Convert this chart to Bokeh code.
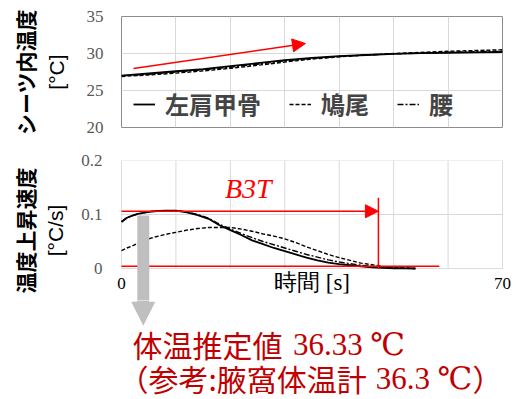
from bokeh.plotting import figure
from bokeh.models import (FixedTicker, LinearAxis, Legend, LegendItem, Arrow,
                          NormalHead, Label, Range1d, BoxAnnotation)
from bokeh.layouts import column
from bokeh.embed import file_html
from bokeh.resources import INLINE

# ---------------- data ----------------
t_top = [0, 5, 10, 15, 20, 25, 30, 35, 40, 45, 50, 55, 60, 65, 70]
temp_shoulder = [27.0, 27.3, 27.6, 27.9, 28.3, 28.7, 29.1, 29.4, 29.65, 29.8, 29.95, 30.05, 30.1, 30.15, 30.2]
temp_chest = [26.9, 27.1, 27.35, 27.65, 28.0, 28.4, 28.85, 29.25, 29.55, 29.8, 30.0, 30.15, 30.3, 30.4, 30.5]
temp_waist = [27.0, 27.2, 27.5, 27.8, 28.15, 28.55, 29.0, 29.35, 29.6, 29.8, 29.95, 30.05, 30.15, 30.25, 30.3]

t_bot = [0, 1, 2, 3, 4, 5, 6, 8, 10, 12, 14, 16, 18, 20, 22, 24, 26, 28, 30,
         32, 34, 36, 38, 40, 42, 44, 46, 48, 50, 52, 54]
rate_shoulder = [0.086, 0.094, 0.098, 0.101, 0.103, 0.105, 0.106, 0.107, 0.107, 0.104, 0.099,
                 0.092, 0.080, 0.071, 0.062, 0.052, 0.045, 0.038, 0.032, 0.026, 0.020,
                 0.015, 0.011, 0.008, 0.006, 0.004, 0.002, 0.001, 0.0005, 0.0002, 0.0]
rate_chest = [0.033, 0.038, 0.042, 0.047, 0.051, 0.055, 0.058, 0.063, 0.067, 0.071, 0.074,
              0.076, 0.076, 0.076, 0.073, 0.069, 0.064, 0.060, 0.055, 0.048, 0.040,
              0.033, 0.026, 0.020, 0.015, 0.010, 0.007, 0.004, 0.002, 0.001, 0.0]
rate_waist = [0.087, 0.094, 0.098, 0.101, 0.103, 0.105, 0.106, 0.107, 0.107, 0.105, 0.100,
              0.093, 0.082, 0.073, 0.065, 0.057, 0.050, 0.044, 0.038, 0.032, 0.026,
              0.021, 0.016, 0.012, 0.009, 0.006, 0.004, 0.002, 0.001, 0.0005, 0.0]

series_names = ["左肩甲骨", "鳩尾", "腰"]
top_yticks = [20, 25, 30, 35]
bot_yticks = [0, 0.1, 0.2]
x_grid_ticks = [10, 20, 30, 40, 50, 60]
bot_hgrid_ticks = [0.1]
x_label_ticks = [0, 70]
X_MAX = 70
BOT_Y_MAX = 0.2

trend_x = [2.2, 33.8]
trend_y = [27.97, 31.35]
peak_level = 0.106
b3t_end = 47.2
b3t_top = 0.131
base_level = 0.004
base_end = 58.4
est_x = 4.0
est_top = 0.098
est_tip = -0.106

RED = "#FF0000"
DARK_RED = "#C00000"
GRID = "#d9d9d9"
FRAME = "#8c8c8c"
TICKC = "#595959"
ARROW_GRAY = "#bfbfbf"
CJK = "Noto Sans CJK JP"
SERIF = "Liberation Serif"
SERIF_DEG = "Liberation Serif, DejaVu Serif"

# page geometry (pixels)
W = 517
TOP_H = 140
MID_H = 160           # figure with the rate chart (image y 140..300)
LOW_H = 99            # figure with the notes (image y 300..399)
BOX_L = 121           # image x of t = 0
BOX_R = 502           # image x of t = 70
MID_FRAME_L = 105     # frame left of rate chart (room for the "0" label)
MID_TOP = 20          # pixel of 0.2 inside the rate figure
MID_ZERO = 128        # pixel of 0 inside the rate figure


def style_yaxis(ax, label_standoff, tick_standoff):
    ax.axis_line_color = None
    ax.major_tick_line_color = None
    ax.minor_tick_line_color = None
    ax.major_tick_out = 0
    ax.major_tick_in = 0
    ax.minor_tick_out = 0
    ax.major_label_text_font = SERIF
    ax.major_label_text_font_size = "17px"
    ax.major_label_text_color = TICKC
    ax.major_label_standoff = tick_standoff
    ax.axis_label_text_font = "Liberation Sans"
    ax.axis_label_text_font_size = "21px"
    ax.axis_label_text_font_style = "normal"
    ax.axis_label_text_color = "black"
    ax.axis_label_standoff = label_standoff


def outer_label(p, text, standoff):
    ax = LinearAxis(axis_label=text, ticker=FixedTicker(ticks=[]))
    ax.axis_line_color = None
    ax.major_tick_line_color = None
    ax.minor_tick_line_color = None
    ax.major_tick_out = 0
    ax.major_tick_in = 0
    ax.minor_tick_out = 0
    ax.major_label_standoff = 0
    ax.axis_label_text_font = CJK
    ax.axis_label_text_font_size = "21px"
    ax.axis_label_text_font_style = "bold"
    ax.axis_label_text_color = "black"
    ax.axis_label_standoff = standoff
    p.add_layout(ax, "left")


# ---------------- top chart ----------------
p1 = figure(width=W, height=TOP_H, output_backend="svg", toolbar_location=None,
            x_range=Range1d(0, X_MAX), y_range=Range1d(20, 35), frame_align=False,
            min_border_left=BOX_L, min_border_right=W - BOX_R, min_border_top=16,
            min_border_bottom=13)
p1.xaxis.visible = False
p1.yaxis.ticker = FixedTicker(ticks=top_yticks)
p1.yaxis.axis_label = "[°C]"
style_yaxis(p1.yaxis[0], 16, 18)
outer_label(p1, "シーツ内温度", 2)
p1.outline_line_color = FRAME
p1.xgrid.ticker = FixedTicker(ticks=x_grid_ticks)
p1.xgrid.grid_line_color = GRID
p1.ygrid.grid_line_color = GRID

r1 = p1.line(t_top, temp_shoulder, line_color="black", line_width=1.8)
r2 = p1.line(t_top, temp_chest, line_color="black", line_width=1.4, line_dash="4 2")
r3 = p1.line(t_top, temp_waist, line_color="black", line_width=1.4, line_dash="6 2 2 2")

p1.add_layout(Arrow(end=NormalHead(size=13, fill_color=RED, line_color=RED),
                    x_start=trend_x[0], y_start=trend_y[0], x_end=trend_x[1], y_end=trend_y[1],
                    line_color=RED, line_width=1.5))

legend = Legend(items=[LegendItem(label=series_names[0], renderers=[r1]),
                       LegendItem(label=series_names[1], renderers=[r2]),
                       LegendItem(label=series_names[2], renderers=[r3])],
                orientation="horizontal", location=(6, 0), margin=0, padding=6,
                spacing=28, glyph_width=22, label_standoff=10,
                background_fill_alpha=0, border_line_alpha=0,
                label_text_font=CJK, label_text_font_size="24px",
                label_text_font_style="bold")
p1.add_layout(legend, "center")

# ---------------- rate chart ----------------
px_per_x = (BOX_R - BOX_L) / X_MAX
px_per_y = (MID_ZERO - MID_TOP) / BOT_Y_MAX
mid_x_lo = -(BOX_L - MID_FRAME_L) / px_per_x
mid_x_hi = X_MAX + (W - BOX_R) / px_per_x
mid_y_lo = -(MID_H - MID_ZERO) / px_per_y

p2 = figure(width=W, height=MID_H, output_backend="svg", toolbar_location=None,
            x_range=Range1d(mid_x_lo, mid_x_hi), y_range=Range1d(mid_y_lo, BOT_Y_MAX),
            frame_align=False,
            min_border_left=MID_FRAME_L, min_border_right=0, min_border_top=MID_TOP,
            min_border_bottom=0)
p2.outline_line_color = None
p2.xgrid.visible = False
p2.ygrid.visible = False
p2.yaxis.ticker = FixedTicker(ticks=bot_yticks)
p2.yaxis.major_label_overrides = {0: "0", 0.1: "0.1", 0.2: "0.2"}
p2.yaxis.axis_label = "[°C/s]"
style_yaxis(p2.yaxis[0], 11, 3)
outer_label(p2, "温度上昇速度", 2)

xa = p2.xaxis[0]
xa.fixed_location = 0
xa.bounds = (0, X_MAX)
xa.ticker = FixedTicker(ticks=x_label_ticks)
xa.axis_line_color = None
xa.major_tick_line_color = None
xa.minor_tick_line_color = None
xa.major_tick_out = 0
xa.major_tick_in = 0
xa.major_label_text_font = SERIF
xa.major_label_text_font_size = "17px"
xa.major_label_text_color = "black"
xa.major_label_standoff = 9
xa.axis_label = "時間 [s]"
xa.axis_label_text_font = SERIF
xa.axis_label_text_font_size = "23px"
xa.axis_label_text_font_style = "normal"
xa.axis_label_text_color = "black"
xa.axis_label_standoff = -22

# grid lines inside the plotted box
p2.segment(x0=x_grid_ticks, y0=[0] * len(x_grid_ticks), x1=x_grid_ticks,
           y1=[BOT_Y_MAX] * len(x_grid_ticks), line_color=GRID, line_width=1)
p2.segment(x0=[0] * len(bot_hgrid_ticks), y0=bot_hgrid_ticks, x1=[X_MAX] * len(bot_hgrid_ticks),
           y1=bot_hgrid_ticks, line_color=GRID, line_width=1)
p2.add_layout(BoxAnnotation(left=0, right=X_MAX, bottom=0, top=BOT_Y_MAX,
                            fill_alpha=0, line_color=FRAME, line_width=1, level="underlay"))

p2.line(t_bot, rate_shoulder, line_color="black", line_width=1.8)
p2.line(t_bot, rate_chest, line_color="black", line_width=1.4, line_dash="4 2")
p2.line(t_bot, rate_waist, line_color="black", line_width=1.4, line_dash="6 2 2 2")

# gray arrow shaft (continues in the notes figure)
p2.add_layout(Arrow(end=None, x_start=est_x, y_start=est_top, x_end=est_x, y_end=mid_y_lo - 0.02,
                    line_color=ARROW_GRAY, line_width=12))

# red guide lines
p2.line([0, base_end], [base_level, base_level], line_color=RED, line_width=1.5)
p2.line([b3t_end, b3t_end], [0, b3t_top], line_color=RED, line_width=1.5)
p2.add_layout(Arrow(end=NormalHead(size=13, fill_color=RED, line_color=RED),
                    x_start=0, y_start=peak_level, x_end=b3t_end, y_end=peak_level,
                    line_color=RED, line_width=1.5))

p2.add_layout(Label(x=23.3, y=0.148, text="B3T", text_font=SERIF, text_font_size="28px",
                    text_font_style="italic", text_color=RED, text_align="center",
                    text_baseline="middle"))

# ---------------- notes (arrow head + estimate) ----------------
low_x_lo = -BOX_L / px_per_x
low_x_hi = (W - BOX_L) / px_per_x
low_y_hi = mid_y_lo
low_y_lo = mid_y_lo - LOW_H / px_per_y

p3 = figure(width=W, height=LOW_H, output_backend="svg", toolbar_location=None,
            x_range=Range1d(low_x_lo, low_x_hi), y_range=Range1d(low_y_lo, low_y_hi),
            frame_align=False,
            min_border_left=0, min_border_right=0, min_border_top=0, min_border_bottom=0)
p3.xaxis.visible = False
p3.yaxis.visible = False
p3.xgrid.visible = False
p3.ygrid.visible = False
p3.outline_line_color = None

head_base = est_tip + 0.03
p3.add_layout(Arrow(end=None, x_start=est_x, y_start=low_y_hi + 0.02, x_end=est_x, y_end=head_base,
                    line_color=ARROW_GRAY, line_width=12))
p3.add_layout(Arrow(end=NormalHead(size=24, fill_color=ARROW_GRAY, line_color=ARROW_GRAY, line_width=0),
                    x_start=est_x, y_start=head_base + 0.001, x_end=est_x, y_end=est_tip,
                    line_alpha=0))

p3.add_layout(Label(x=2.0, y=-0.1407, text="体温推定値", text_font=CJK, text_font_size="30px",
                    text_color=DARK_RED, text_align="left", text_baseline="middle"))
p3.add_layout(Label(x=31.5, y=-0.1407, text="36.33 ℃", text_font=SERIF_DEG, text_font_size="31px",
                    text_color=DARK_RED, text_align="left", text_baseline="middle"))
p3.add_layout(Label(x=-0.55, y=-0.2030, text="（参考:腋窩体温計", text_font=CJK, text_font_size="30px",
                    text_color=DARK_RED, text_align="left", text_baseline="middle"))
p3.add_layout(Label(x=46.7, y=-0.2030, text="36.3 ℃", text_font=SERIF_DEG, text_font_size="31px",
                    text_color=DARK_RED, text_align="left", text_baseline="middle"))
p3.add_layout(Label(x=64.5, y=-0.2030, text="）", text_font=CJK, text_font_size="30px",
                    text_color=DARK_RED, text_align="left", text_baseline="middle"))

layout = column(p1, p2, p3, spacing=0)
open("out.html", "w").write(file_html(layout, INLINE))
